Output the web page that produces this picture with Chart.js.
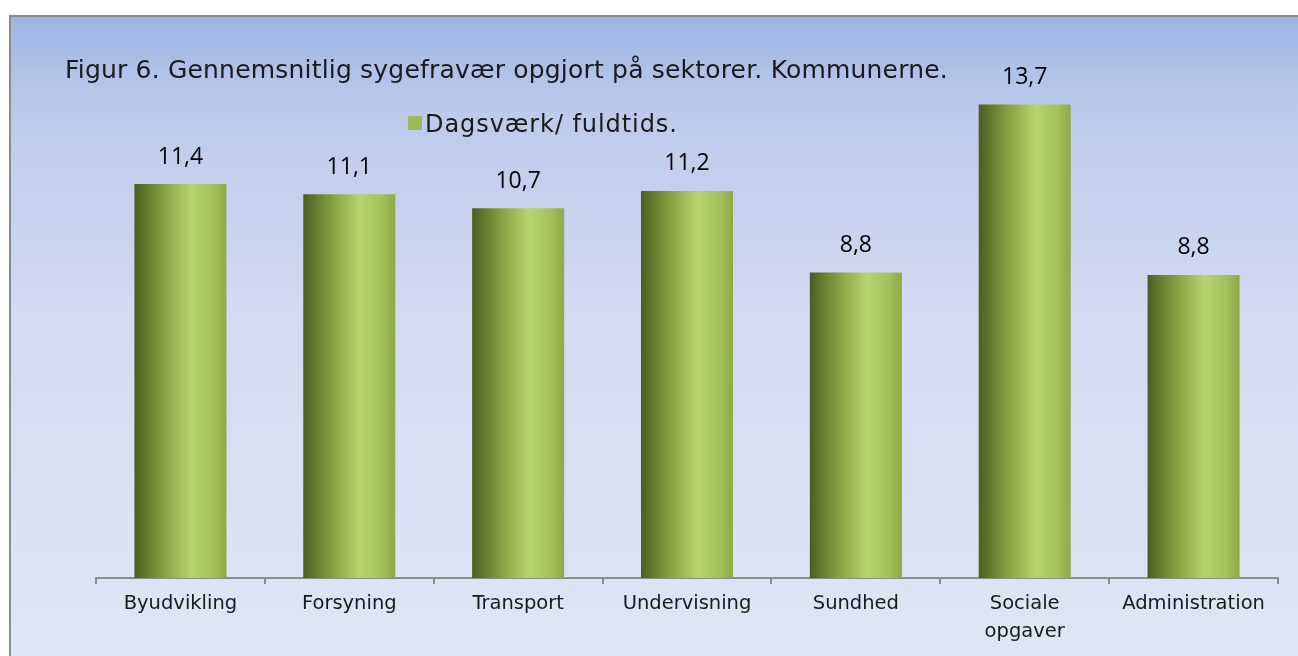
<!DOCTYPE html>
<html>
<head>
<meta charset="utf-8">
<script src="https://cdn.jsdelivr.net/npm/chart.js@4.4.1/dist/chart.umd.min.js"></script>
<style>
  html, body { margin: 0; padding: 0; background: #ffffff; }
  #wrap { position: relative; width: 1298px; height: 656px; }
</style>
</head>
<body>
<div id="wrap"><canvas id="c"></canvas></div>
<script>
// ---- data ----
const chartTitle = 'Figur 6. Gennemsnitlig sygefravær opgjort på sektorer. Kommunerne.';
const seriesName = 'Dagsværk/ fuldtids.';
const categories = ['Byudvikling', 'Forsyning', 'Transport', 'Undervisning', 'Sundhed', ['Sociale', 'opgaver'], 'Administration'];
const values = [11.4, 11.1, 10.7, 11.2, 8.84, 13.7, 8.77];
const yMin = 0;
const yMax = 16;

const LABEL_FONT = '"DejaVu Sans", sans-serif';
const VALUE_FONT = '"Open Sans", sans-serif';

function barGradient(ctx) {
  const chart = ctx.chart;
  const xs = chart.scales && chart.scales.x;
  if (!xs || !chart.chartArea) return '#9bbb59';
  const cx = xs.getPixelForValue(ctx.dataIndex);
  const w = (xs.width / categories.length) * 0.545;
  const g = chart.ctx.createLinearGradient(cx - w / 2, 0, cx + w / 2, 0);
  g.addColorStop(0.0, '#4a5d22');
  g.addColorStop(0.12, '#5f7a2c');
  g.addColorStop(0.35, '#8aa846');
  g.addColorStop(0.62, '#b5d56f');
  g.addColorStop(0.85, '#a2c25c');
  g.addColorStop(1.0, '#8cab48');
  return g;
}

// draw text stretched (letter spacing) to a target width
function fitText(c, txt, x, y, targetW) {
  c.letterSpacing = '0px';
  const w = c.measureText(txt).width;
  const ls = Math.max(0, (targetW - w) / Math.max(1, txt.length - 1));
  c.letterSpacing = ls.toFixed(2) + 'px';
  c.fillText(txt, x, y);
  c.letterSpacing = '0px';
}

const framePlugin = {
  id: 'frame',
  beforeDraw(chart) {
    const c = chart.ctx;
    const W = chart.width, H = chart.height;
    c.save();
    const fx = 10, fy = 16;
    const g = c.createLinearGradient(0, fy, 0, H);
    g.addColorStop(0.0, '#9cb5e2');
    g.addColorStop(0.15, '#bccbeb');
    g.addColorStop(0.45, '#d0daf1');
    g.addColorStop(1.0, '#dfe6f5');
    c.fillStyle = g;
    c.fillRect(fx, fy, W - fx, H - fy);
    c.strokeStyle = '#8a8a8a';
    c.lineWidth = 2;
    c.beginPath();
    c.moveTo(fx, H);
    c.lineTo(fx, fy);
    c.lineTo(W, fy);
    c.stroke();
    c.restore();
  },
  afterDraw(chart) {
    const c = chart.ctx;
    c.save();
    // title
    c.fillStyle = '#1a1a1a';
    c.font = '25px ' + LABEL_FONT;
    c.textAlign = 'left';
    c.textBaseline = 'alphabetic';
    fitText(c, chartTitle, 65, 78, 883);
    // legend
    c.fillStyle = '#9bbb59';
    c.fillRect(408, 116, 14, 14);
    c.fillStyle = '#1a1a1a';
    c.font = '24px ' + LABEL_FONT;
    c.textBaseline = 'alphabetic';
    fitText(c, seriesName, 425, 132, 252);
    c.restore();
  }
};

const valueLabels = {
  id: 'valueLabels',
  afterDatasetsDraw(chart) {
    const c = chart.ctx;
    const meta = chart.getDatasetMeta(0);
    c.save();
    c.fillStyle = '#000000';
    c.font = '23px ' + VALUE_FONT;
    c.textAlign = 'center';
    c.textBaseline = 'middle';
    meta.data.forEach((el, i) => {
      const txt = values[i].toFixed(1).replace('.', ',');
      c.fillText(txt, el.x, el.y - 27);
    });
    c.restore();
  }
};

new Chart(document.getElementById('c'), {
  type: 'bar',
  data: {
    labels: categories,
    datasets: [{
      label: seriesName,
      data: values,
      backgroundColor: barGradient,
      borderWidth: 0,
      categoryPercentage: 1.0,
      barPercentage: 0.545
    }]
  },
  options: {
    responsive: true,
    maintainAspectRatio: false,
    animation: false,
    layout: { padding: { left: 96, right: 20, top: 25, bottom: 0 } },
    plugins: {
      legend: { display: false },
      title: { display: false },
      tooltip: { enabled: false }
    },
    scales: {
      x: {
        offset: true,
        grid: {
          offset: true,
          drawOnChartArea: false,
          drawTicks: true,
          tickLength: 6,
          color: '#8c8c8c',
          lineWidth: 2
        },
        border: { display: true, color: '#8c8c8c', width: 2 },
        ticks: {
          color: '#1a1a1a',
          font: { family: LABEL_FONT, size: 19.5, lineHeight: 1.45 },
          padding: 6,
          maxRotation: 0,
          autoSkip: false
        },
        afterFit(s) { s.height = 78; }
      },
      y: {
        display: false,
        min: yMin,
        max: yMax
      }
    }
  },
  plugins: [framePlugin, valueLabels]
});
</script>
</body>
</html>
